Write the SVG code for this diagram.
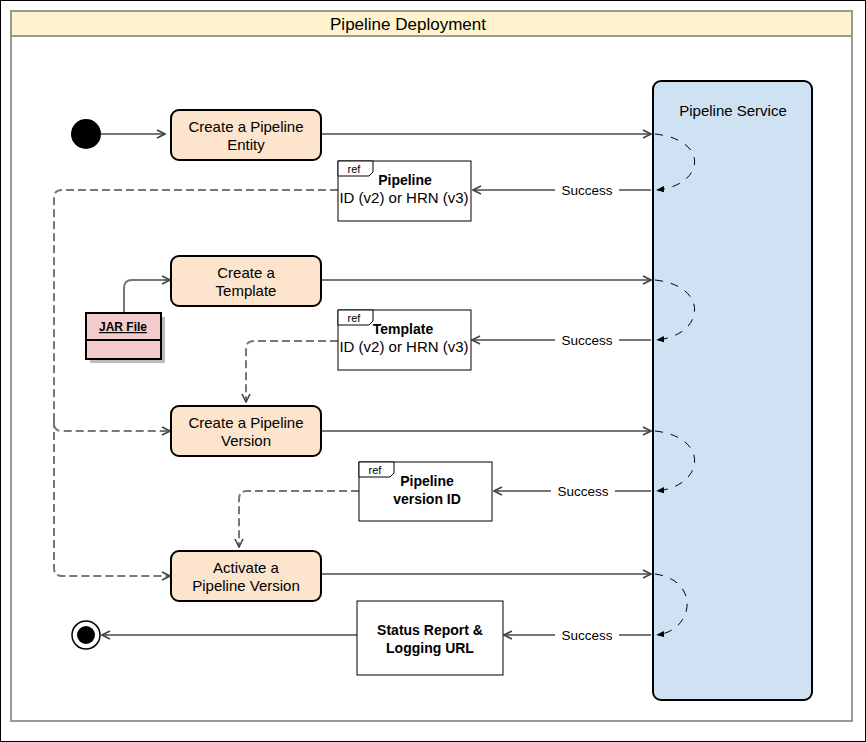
<svg xmlns="http://www.w3.org/2000/svg" width="866" height="742" viewBox="0 0 866 742">
<style>
text{font-family:"Liberation Sans",Arial,sans-serif;fill:#000}
.act{fill:#fce4cd;stroke:#000;stroke-width:2}
.c{stroke:#777;stroke-width:2;fill:none}
.d{stroke:#777;stroke-width:2;fill:none;stroke-dasharray:8 4}
.l{stroke:#000;stroke-width:1;fill:none;stroke-dasharray:8 8}
.ref{fill:#fff;stroke:#000;stroke-width:1}
.t{font-size:15px;text-anchor:middle}
.b{font-size:14px;font-weight:bold;text-anchor:middle}
.s{font-size:13.5px;text-anchor:middle}
</style>
<defs>
<marker id="oa" viewBox="0 0 10 10" refX="9" refY="5" markerWidth="10" markerHeight="10" markerUnits="userSpaceOnUse" orient="auto"><path d="M1,1 L9,5 L1,9" fill="none" stroke="#444" stroke-width="1.6"/></marker>
<marker id="fa" viewBox="0 0 10 10" refX="9" refY="5" markerWidth="8" markerHeight="8" markerUnits="userSpaceOnUse" orient="auto"><path d="M0,1 L10,5 L0,9 Z" fill="#000"/></marker>
</defs>
<rect x="0.5" y="0.5" width="865" height="741" fill="#fff" stroke="#000"/>
<rect x="11" y="11" width="841" height="710" fill="#fff" stroke="#999" stroke-width="2"/>
<rect x="11" y="11" width="841" height="25" fill="#fff2cc" stroke="#999" stroke-width="2"/>
<text x="408" y="30" class="t" style="font-size:17px">Pipeline Deployment</text>

<g id="service"><rect x="653" y="81" width="159" height="619" rx="8" fill="#cfe2f3" stroke="#000" stroke-width="2"/><text x="733" y="116" class="t">Pipeline Service</text></g>

<g id="connectors">
<path class="c" d="M101,134 H165" marker-end="url(#oa)"/>
<path class="c" d="M321,134 H651" marker-end="url(#oa)"/>
<path class="c" d="M651,190 H473" marker-end="url(#oa)"/>
<path class="c" d="M321,280 H651" marker-end="url(#oa)"/>
<path class="c" d="M651,340 H472" marker-end="url(#oa)"/>
<path class="c" d="M321,431 H651" marker-end="url(#oa)"/>
<path class="c" d="M651,491 H494" marker-end="url(#oa)"/>
<path class="c" d="M321,574 H651" marker-end="url(#oa)"/>
<path class="c" d="M651,635 H504" marker-end="url(#oa)"/>
<path class="c" d="M357,635 H102" marker-end="url(#oa)"/>
<path class="c" d="M124,313 V288 Q124,280 132,280 H170" marker-end="url(#oa)"/>
<path class="d" d="M338,190 H62 Q54,190 54,198 V423 Q54,431 62,431 H170" marker-end="url(#oa)"/>
<path class="d" d="M54,420 V568 Q54,576 62,576 H170" marker-end="url(#oa)"/>
<path class="d" d="M338,341 H254 Q246,341 246,349 V402" marker-end="url(#oa)"/>
<path class="d" d="M359,491 H247 Q239,491 239,499 V547" marker-end="url(#oa)"/>
<path class="l" d="M655,134 C710,140 705,185 657,190" marker-end="url(#fa)"/>
<path class="l" d="M655,280 C710,286 705,335 657,340" marker-end="url(#fa)"/>
<path class="l" d="M655,431 C710,437 705,486 657,491" marker-end="url(#fa)"/>
<path class="l" d="M655,574 C700,580 695,630 657,635" marker-end="url(#fa)"/>
<rect x="555" y="182" width="64" height="16" fill="#fff"/><text x="587" y="195" class="s">Success</text>
<rect x="555" y="332" width="64" height="16" fill="#fff"/><text x="587" y="345" class="s">Success</text>
<rect x="551" y="483" width="64" height="16" fill="#fff"/><text x="583" y="496" class="s">Success</text>
<rect x="555" y="627" width="64" height="16" fill="#fff"/><text x="587" y="640" class="s">Success</text>
</g>

<g id="start"><circle cx="86" cy="134" r="15" fill="#000"/></g>
<g id="end"><circle cx="86" cy="635" r="14" fill="#fff" stroke="#000" stroke-width="1.5"/><circle cx="86" cy="635" r="9" fill="#000"/></g>

<g id="create-entity"><rect class="act" x="171" y="110" width="150" height="50" rx="8"/><text x="246" y="132" class="t">Create a Pipeline</text><text x="246" y="150" class="t">Entity</text></g>
<g id="create-template"><rect class="act" x="171" y="256" width="150" height="50" rx="8"/><text x="246" y="278" class="t">Create a</text><text x="246" y="296" class="t">Template</text></g>
<g id="create-version"><rect class="act" x="171" y="406" width="150" height="50" rx="8"/><text x="246" y="428" class="t">Create a Pipeline</text><text x="246" y="446" class="t">Version</text></g>
<g id="activate"><rect class="act" x="171" y="551" width="150" height="50" rx="8"/><text x="246" y="573" class="t">Activate a</text><text x="246" y="591" class="t">Pipeline Version</text></g>

<g id="jar"><rect x="90" y="317" width="75" height="46" fill="#bbb"/><rect x="86" y="313" width="75" height="46" fill="#f4cccc" stroke="#000" stroke-width="2"/><line x1="86" y1="340" x2="161" y2="340" stroke="#000" stroke-width="2"/><text x="123" y="331" class="b" style="font-size:12px;text-decoration:underline">JAR File</text></g>

<g id="ref-pipeline"><rect class="ref" x="338" y="161" width="133" height="60"/><path class="ref" d="M338,161 H373 V172 L369,176 H338 Z"/><text x="354" y="173" style="font-size:11px" text-anchor="middle">ref</text><text x="405" y="185" class="b">Pipeline</text><text x="404" y="203" class="b" style="font-weight:normal;font-size:15px">ID (v2) or HRN (v3)</text></g>
<g id="ref-template"><rect class="ref" x="338" y="310" width="133" height="60"/><path class="ref" d="M338,310 H373 V321 L369,325 H338 Z"/><text x="354" y="322" style="font-size:11px" text-anchor="middle">ref</text><text x="403" y="334" class="b">Template</text><text x="404" y="352" class="b" style="font-weight:normal;font-size:15px">ID (v2) or HRN (v3)</text></g>
<g id="ref-version"><rect class="ref" x="359" y="462" width="133" height="59"/><path class="ref" d="M359,462 H394 V473 L390,477 H359 Z"/><text x="375" y="474" style="font-size:11px" text-anchor="middle">ref</text><text x="427" y="486" class="b">Pipeline</text><text x="427" y="504" class="b">version ID</text></g>
<g id="status"><rect x="357" y="601" width="146" height="74" fill="#fff" stroke="#000" stroke-width="1"/><text x="430" y="635" class="b">Status Report &amp;</text><text x="430" y="653" class="b">Logging URL</text></g>
</svg>
